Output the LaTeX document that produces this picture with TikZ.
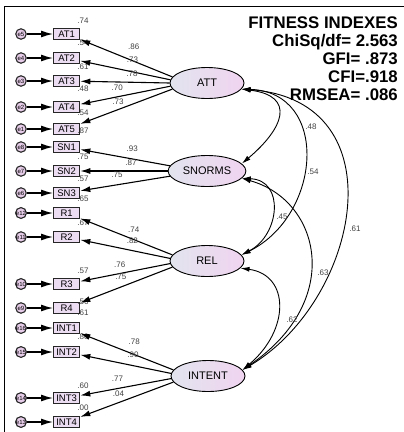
\documentclass[tikz,border=0pt]{standalone}
\usepackage{fontspec}
\setmainfont{Liberation Sans}
\usetikzlibrary{arrows.meta,shapes.geometric}
\definecolor{boxfill}{HTML}{EDDDF3}
\definecolor{errfill}{HTML}{E6CCE8}
\definecolor{latl}{HTML}{E2E4EE}
\definecolor{latr}{HTML}{F0D4F0}
\begin{document}
\begin{tikzpicture}[x=1pt,y=-1pt]
	\tikzset{obs/.style = {draw=black!85,line width=1.3pt,fill=boxfill,minimum width=26pt,minimum height=10.5pt,inner sep=1pt,anchor=west,font=\fontsize{9.5}{9.5}\selectfont}}
	\tikzset{err/.style = {circle,draw=black!85,line width=1.1pt,fill=errfill,minimum size=10.5pt,inner sep=0pt,font=\fontsize{6}{6}\selectfont}}
	\tikzset{lat/.style = {ellipse,draw,line width=0.9pt,left color=latl,right color=latr,minimum width=74pt,minimum height=31pt,font=\fontsize{11}{11}\selectfont}}
	\tikzset{lbl/.style = {inner sep=0pt,text=black!75,font=\fontsize{8}{8}\selectfont}}
	\tikzset{edge/.style = {->,>={Latex[length=10pt,width=6pt]},line width=1.1pt}}
	\tikzset{erredge/.style = {->,>={Latex[length=12pt,width=7pt]},line width=1.3pt}}
	\tikzset{cov/.style = {<->,>={Latex[length=9pt,width=5pt]},line width=0.9pt}}
	\useasboundingbox (0,0) rectangle (404,432);
	\draw[line width=1.3pt] (4.7,432) -- (4.7,6.5) -- (404,6.5);
	% latent variables
	\node[lat] (ATT) at (207,83) {ATT};
	\node[lat] (SNORMS) at (207,171) {SNORMS};
	\node[lat] (REL) at (207,261) {REL};
	\node[lat] (INTENT) at (208,376) {INTENT};
	% indicators, errors and squared multiple correlations
	\foreach \nm/\er/\yy/\rr/\ry in {AT1/e5/34/.74/21, AT2/e4/58/.54/43, AT3/e3/81/.61/67, AT4/e2/107/.48/89, AT5/e1/129/.54/113, SN1/e8/147/.87/131, SN2/e7/171/.75/157, SN3/e6/193/.57/179, R1/e12/213/.65/199, R2/e11/237/.67/223, R3/e10/284/.57/271, R4/e9/308/.56/302, INT1/e16/328/.61/313, INT2/e15/352/.80/337, INT3/e14/398/.60/386, INT4/e13/422/.00/408}{
		\node[obs] (\nm) at (53,\yy) {\nm};
		\node[err] (\er) at (21,\yy) {\er};
		\node[lbl] (r\nm) at (83,\ry) {\rr};
		\draw[erredge] (\er) -- (\nm);
	}
	% loadings
	\foreach \lv/\nm/\ang/\val/\p/\dy in {ATT/AT1/170/.86/.42/11pt, ATT/AT2/175/.73/.42/9pt, ATT/AT3/180/.78/.42/5pt, ATT/AT4/185/.70/.59/6pt, ATT/AT5/190/.73/.59/4pt, SNORMS/SN1/172/.93/.42/7pt, SNORMS/SN2/180/.87/.42/5pt, SNORMS/SN3/188/.75/.59/7pt, REL/R1/170/.74/.42/7pt, REL/R2/176/.82/.42/6pt, REL/R3/184/.76/.56/5pt, REL/R4/190/.75/.56/7pt, INTENT/INT1/170/.78/.42/9pt, INTENT/INT2/176/.90/.42/7pt, INTENT/INT3/184/.77/.59/6pt, INTENT/INT4/190/.04/.59/6pt}
		\draw[edge] (\lv.\ang) -- node[lbl,pos=\p,above=\dy] {\val} (\nm);
	% covariances
	\draw[cov] (ATT.-10) .. controls (297,96) and (283,129) .. (SNORMS.12);
	\draw[cov] (ATT.-10) .. controls (330,92) and (322,215) .. (REL.10);
	\draw[cov] (ATT.-10) .. controls (400,100) and (360,300) .. (INTENT.10);
	\draw[cov] (SNORMS.-12) .. controls (285,180) and (280,235) .. (REL.10);
	\draw[cov] (SNORMS.-12) .. controls (320,200) and (345,300) .. (INTENT.10);
	\draw[cov] (REL.-12) .. controls (290,275) and (290,330) .. (INTENT.10);
	\node[lbl] (c48) at (311,127) {.48};
	\node[lbl] (c54) at (313,172) {.54};
	\node[lbl] (c45) at (282,217) {.45};
	\node[lbl] (c61) at (355,229) {.61};
	\node[lbl] (c63) at (323,273) {.63};
	\node[lbl] (c62) at (292,320) {.62};
	% fit indexes
	\node[anchor=north east,align=right,inner sep=0pt,font=\bfseries\fontsize{16.8}{18}\selectfont] (fit) at (398,17) {FITNESS INDEXES\\ChiSq/df= 2.563\\GFI= .873\\CFI=.918\\RMSEA= .086};
\end{tikzpicture}
\end{document}
